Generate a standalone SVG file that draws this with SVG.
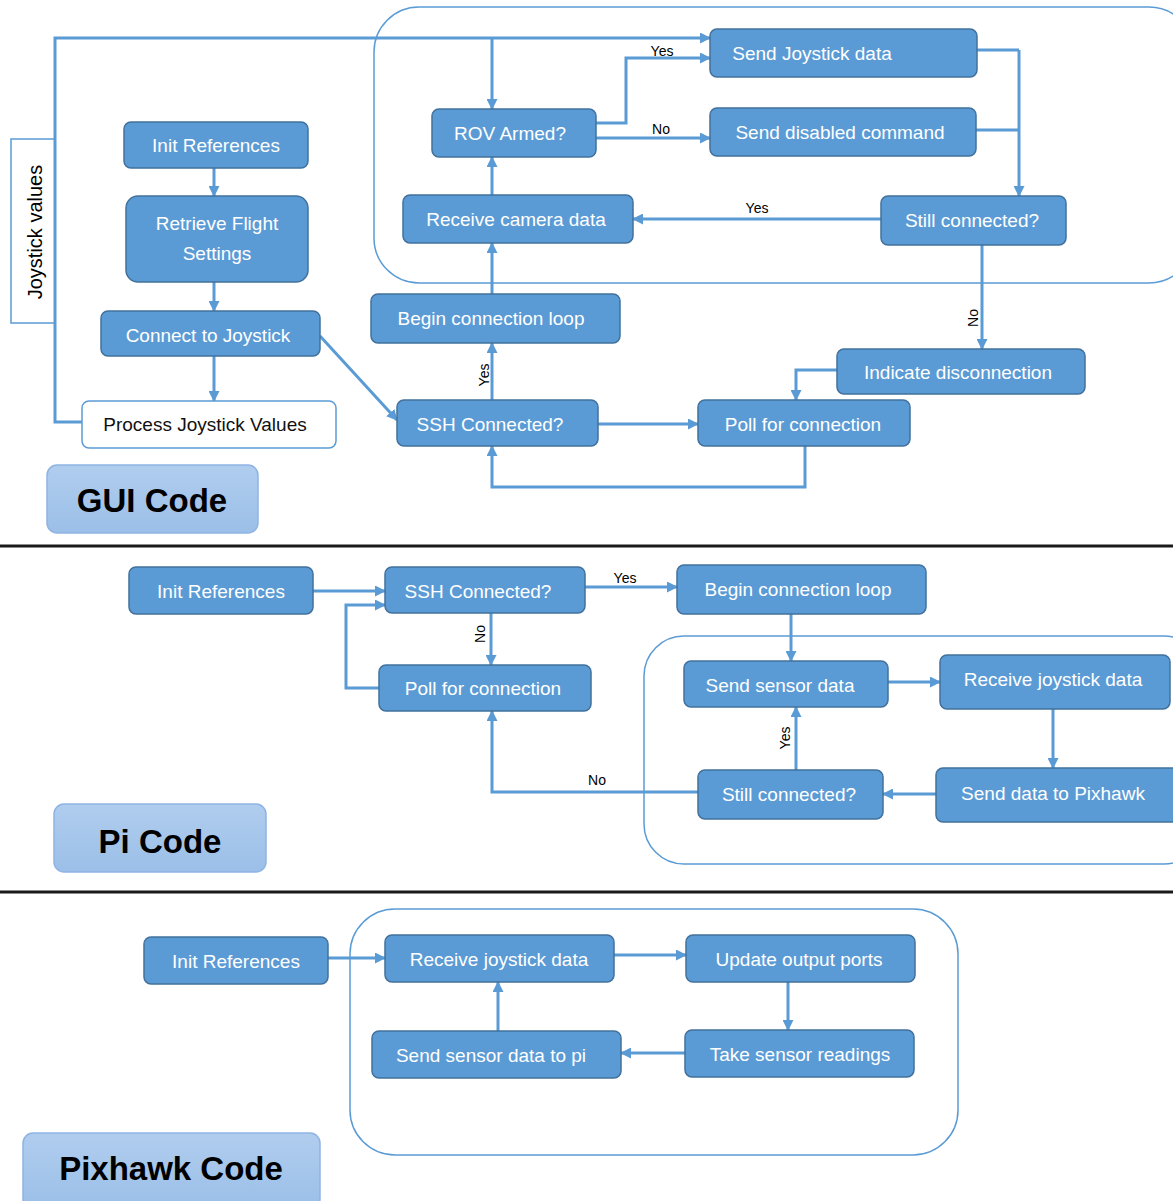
<svg xmlns="http://www.w3.org/2000/svg" width="1173" height="1201" viewBox="0 0 1173 1201">
<style>
.n rect{fill:#5b9bd5;stroke:#41719c;stroke-width:1.5}
.n text{fill:#fff;font-family:"Liberation Sans",Arial,sans-serif;font-size:19px;text-anchor:middle;dominant-baseline:central}
.w rect{fill:#fff;stroke:#5b9bd5;stroke-width:1.5}
.w text{fill:#111;font-family:"Liberation Sans",Arial,sans-serif;font-size:19px;text-anchor:middle;dominant-baseline:central}
.t rect{fill:url(#g);stroke:#8fb4e3;stroke-width:1.5}
.t text{fill:#000;font-family:"Liberation Sans",Arial,sans-serif;font-size:33px;font-weight:bold;text-anchor:middle;dominant-baseline:central}
.c{fill:none;stroke:#5b9bd5;stroke-width:3}
.a{marker-end:url(#ah)}
.ct{fill:none;stroke:#5b9bd5;stroke-width:1.5}
.lb{fill:#000;font-family:"Liberation Sans",Arial,sans-serif;font-size:14px;text-anchor:middle;dominant-baseline:central}
.dv{stroke:#1a1a1a;stroke-width:3}
</style>
<defs>
<linearGradient id="g" x1="0" y1="0" x2="0" y2="1"><stop offset="0" stop-color="#b0cdee"/><stop offset="1" stop-color="#9bbfe8"/></linearGradient>
<marker id="ah" markerUnits="userSpaceOnUse" markerWidth="11" markerHeight="11" refX="10" refY="5.5" orient="auto"><path d="M0,0 L11,5.5 L0,11 Z" fill="#5b9bd5"/></marker>
</defs>
<rect width="1173" height="1201" fill="#fff"/>

<g id="containers">
<rect class="ct" x="374" y="7" width="820" height="276" rx="45"/>
<rect class="ct" x="644" y="636" width="560" height="228" rx="40"/>
<rect class="ct" x="350" y="909" width="608" height="246" rx="45"/>
<path class="ct" d="M55,139 H11 V323 H55"/>
<text x="35" y="232" transform="rotate(-90 35 232)" style="fill:#000;font-family:'Liberation Sans',Arial,sans-serif;font-size:20px;text-anchor:middle;dominant-baseline:central">Joystick values</text>
</g>

<g id="dividers">
<line class="dv" x1="0" y1="546" x2="1173" y2="546"/>
<line class="dv" x1="0" y1="892" x2="1173" y2="892"/>
</g>

<g id="connectors">
<path class="c a" d="M214,168 V196"/>
<path class="c a" d="M214,282 V311"/>
<path class="c a" d="M214,356 V401"/>
<path class="c a" d="M320,336 L397,420"/>
<path class="c a" d="M492,400 V343"/>
<path class="c a" d="M492,294 V243"/>
<path class="c a" d="M492,195 V157"/>
<path class="c a" d="M82,422 H55 V38 H710"/>
<path class="c a" d="M492,38 V109"/>
<path class="c a" d="M596,123 H626 V58 H710"/>
<path class="c a" d="M596,138 H710"/>
<path class="c" d="M977,50 H1019"/>
<path class="c" d="M976,130 H1019"/>
<path class="c a" d="M1019,50 V196"/>
<path class="c a" d="M881,219 H633"/>
<path class="c a" d="M982,245 V349"/>
<path class="c a" d="M837,370 H796 V400"/>
<path class="c a" d="M598,424 H698"/>
<path class="c a" d="M805,446 V487 H492 V446"/>
<text class="lb" x="662" y="51">Yes</text>
<text class="lb" x="661" y="129">No</text>
<text class="lb" x="757" y="208">Yes</text>
<text class="lb" x="973" y="318" transform="rotate(-90 973 318)">No</text>
<text class="lb" x="484" y="375" transform="rotate(-90 484 375)">Yes</text>
<path class="c a" d="M313,591 H385"/>
<path class="c a" d="M585,587 H677"/>
<path class="c a" d="M491,613 V665"/>
<path class="c a" d="M379,688 H346 V605 H385"/>
<path class="c a" d="M791,614 V661"/>
<path class="c a" d="M888,682 H940"/>
<path class="c a" d="M1053,709 V768"/>
<path class="c a" d="M936,794 H883"/>
<path class="c a" d="M796,770 V707"/>
<path class="c a" d="M698,792 H492 V711"/>
<text class="lb" x="625" y="578">Yes</text>
<text class="lb" x="480" y="634" transform="rotate(-90 480 634)">No</text>
<text class="lb" x="785" y="738" transform="rotate(-90 785 738)">Yes</text>
<text class="lb" x="597" y="780">No</text>
<path class="c a" d="M328,958 H385"/>
<path class="c a" d="M614,955 H686"/>
<path class="c a" d="M788,982 V1030"/>
<path class="c a" d="M685,1053 H621"/>
<path class="c a" d="M498,1031 V982"/>
</g>

<g id="gui-init" class="n"><rect x="124" y="122" width="184" height="46" rx="7"/><text x="216" y="145">Init References</text></g>
<g id="gui-retrieve" class="n"><rect x="126" y="196" width="182" height="86" rx="12"/><text x="217" y="223">Retrieve Flight</text><text x="217" y="253">Settings</text></g>
<g id="gui-connect" class="n"><rect x="101" y="311" width="219" height="45" rx="7"/><text x="208" y="335">Connect to Joystick</text></g>
<g id="gui-process" class="w"><rect x="82" y="401" width="254" height="47" rx="7"/><text x="205" y="424">Process Joystick Values</text></g>
<g id="gui-title" class="t"><rect x="47" y="465" width="211" height="68" rx="10"/><text x="152" y="500">GUI Code</text></g>
<g id="gui-rov" class="n"><rect x="432" y="109" width="164" height="48" rx="7"/><text x="510" y="133">ROV Armed?</text></g>
<g id="gui-sendjoy" class="n"><rect x="710" y="29" width="267" height="48" rx="7"/><text x="812" y="53">Send Joystick data</text></g>
<g id="gui-senddis" class="n"><rect x="710" y="108" width="266" height="48" rx="7"/><text x="840" y="132">Send disabled command</text></g>
<g id="gui-camera" class="n"><rect x="403" y="195" width="230" height="48" rx="7"/><text x="516" y="219">Receive camera data</text></g>
<g id="gui-still" class="n"><rect x="881" y="196" width="185" height="49" rx="7"/><text x="972" y="220">Still connected?</text></g>
<g id="gui-begin" class="n"><rect x="371" y="294" width="249" height="49" rx="7"/><text x="491" y="318">Begin connection loop</text></g>
<g id="gui-indicate" class="n"><rect x="837" y="349" width="248" height="45" rx="7"/><text x="958" y="372">Indicate disconnection</text></g>
<g id="gui-ssh" class="n"><rect x="397" y="400" width="201" height="46" rx="7"/><text x="490" y="424">SSH Connected?</text></g>
<g id="gui-poll" class="n"><rect x="698" y="400" width="212" height="46" rx="7"/><text x="803" y="424">Poll for connection</text></g>

<g id="pi-init" class="n"><rect x="129" y="567" width="184" height="47" rx="7"/><text x="221" y="591">Init References</text></g>
<g id="pi-ssh" class="n"><rect x="385" y="567" width="200" height="46" rx="7"/><text x="478" y="591">SSH Connected?</text></g>
<g id="pi-begin" class="n"><rect x="677" y="565" width="249" height="49" rx="7"/><text x="798" y="589">Begin connection loop</text></g>
<g id="pi-poll" class="n"><rect x="379" y="665" width="212" height="46" rx="7"/><text x="483" y="688">Poll for connection</text></g>
<g id="pi-sendsensor" class="n"><rect x="684" y="661" width="204" height="46" rx="7"/><text x="780" y="685">Send sensor data</text></g>
<g id="pi-recvjoy" class="n"><rect x="940" y="655" width="230" height="54" rx="7"/><text x="1053" y="679">Receive joystick data</text></g>
<g id="pi-still" class="n"><rect x="698" y="770" width="185" height="49" rx="7"/><text x="789" y="794">Still connected?</text></g>
<g id="pi-pixhawk" class="n"><rect x="936" y="768" width="245" height="54" rx="7"/><text x="1053" y="793">Send data to Pixhawk</text></g>
<g id="pi-title" class="t"><rect x="54" y="804" width="212" height="68" rx="10"/><text x="160" y="841">Pi Code</text></g>

<g id="px-init" class="n"><rect x="144" y="937" width="184" height="47" rx="7"/><text x="236" y="961">Init References</text></g>
<g id="px-recv" class="n"><rect x="385" y="935" width="229" height="47" rx="7"/><text x="499" y="959">Receive joystick data</text></g>
<g id="px-update" class="n"><rect x="686" y="935" width="229" height="47" rx="7"/><text x="799" y="959">Update output ports</text></g>
<g id="px-sendpi" class="n"><rect x="372" y="1031" width="249" height="47" rx="7"/><text x="491" y="1055">Send sensor data to pi</text></g>
<g id="px-take" class="n"><rect x="685" y="1030" width="229" height="47" rx="7"/><text x="800" y="1054">Take sensor readings</text></g>
<g id="px-title" class="t"><rect x="23" y="1133" width="297" height="76" rx="10"/><text x="171" y="1168">Pixhawk Code</text></g>
</svg>
